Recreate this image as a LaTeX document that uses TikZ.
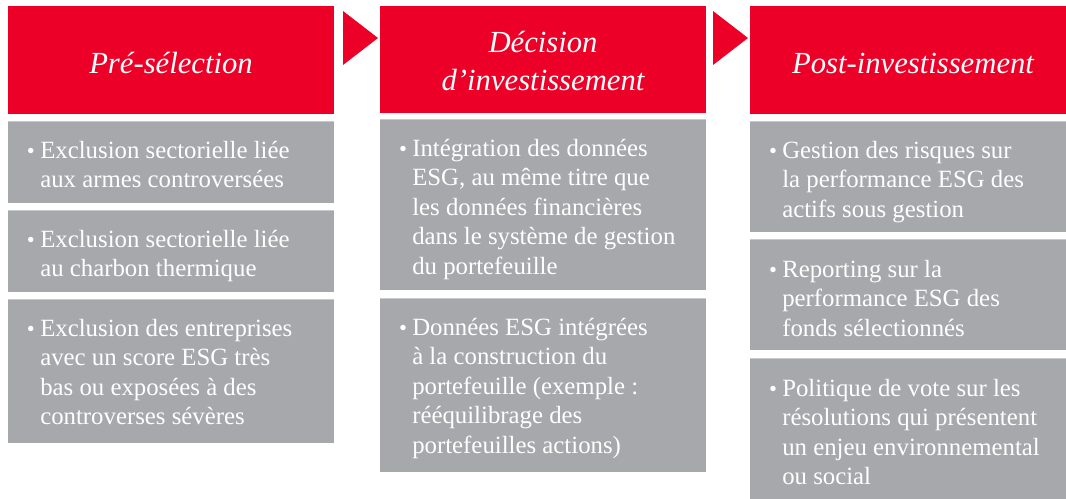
\documentclass[tikz,border=0pt]{standalone}
\usepackage{fontspec}
\setmainfont{Liberation Serif}
\definecolor{hdred}{RGB}{236,0,40}
\definecolor{boxgray}{RGB}{167,168,172}
\definecolor{boxedge}{RGB}{200,201,204}
\newcommand{\blt}{\llap{{\fontsize{17}{17}\selectfont\textbullet}\hspace{4pt}}}
\begin{document}
\begin{tikzpicture}[x=0.75pt,y=-0.75pt,
  hdr/.style={fill=hdred},
  gbox/.style={fill=boxgray},
  edge/.style={draw=boxedge,line width=0.9pt},
  title/.style={text=white,font=\fontsize{23}{29}\selectfont\itshape,align=center,inner sep=0},
  item/.style={text=white,font=\fontsize{18.6}{22.1}\selectfont,align=left,anchor=north west,inner sep=0},
  tri/.style={fill=hdred}]
\useasboundingbox (0,0) rectangle (1066,499);
% column 1
\fill[hdr] (8,6) rectangle (334,114);
\node[title] (t1) at (171,63) {Pré-sélection};
\fill[gbox] (8,121) rectangle (334,203); \draw[edge] (8,121.5) -- (334,121.5);
\fill[gbox] (8,210) rectangle (334,292); \draw[edge] (8,210.5) -- (334,210.5);
\fill[gbox] (8,299) rectangle (334,443); \draw[edge] (8,299.5) -- (334,299.5);
\node[item] (a1) at (40,141) {\blt Exclusion sectorielle liée\\aux armes controversées};
\node[item] (a2) at (40,230) {\blt Exclusion sectorielle liée\\au charbon thermique};
\node[item] (a3) at (40,319) {\blt Exclusion des entreprises\\avec un score ESG très\\bas ou exposées à des\\controverses sévères};
% arrow 1
\fill[tri] (343,11) -- (378,38) -- (343,65) -- cycle;
% column 2
\fill[hdr] (380,6) rectangle (706,113);
\node[title] (t2) at (543,61) {Décision\\d’investissement};
\fill[gbox] (380,119) rectangle (706,290); \draw[edge] (380,119.5) -- (706,119.5);
\fill[gbox] (380,298) rectangle (706,472); \draw[edge] (380,298.5) -- (706,298.5);
\node[item] (b1) at (412,139) {\blt Intégration des données\\ESG, au même titre que\\les données financières\\dans le système de gestion\\du portefeuille};
\node[item] (b2) at (412,318) {\blt Données ESG intégrées\\à la construction du\\portefeuille (exemple :\\rééquilibrage des\\portefeuilles actions)};
% arrow 2
\fill[tri] (713,11) -- (748,38) -- (713,65) -- cycle;
% column 3
\fill[hdr] (750,6) rectangle (1076,114);
\node[title] (t3) at (913,63) {Post-investissement};
\fill[gbox] (750,121) rectangle (1076,232); \draw[edge] (750,121.5) -- (1076,121.5);
\fill[gbox] (750,239) rectangle (1076,350); \draw[edge] (750,239.5) -- (1076,239.5);
\fill[gbox] (750,358) rectangle (1076,510); \draw[edge] (750,358.5) -- (1076,358.5);
\node[item] (c1) at (782,141) {\blt Gestion des risques sur\\la performance ESG des\\actifs sous gestion};
\node[item] (c2) at (782,260) {\blt Reporting sur la\\performance ESG des\\fonds sélectionnés};
\node[item] (c3) at (782,379) {\blt Politique de vote sur les\\résolutions qui présentent\\un enjeu environnemental\\ou social};
\end{tikzpicture}
\end{document}
